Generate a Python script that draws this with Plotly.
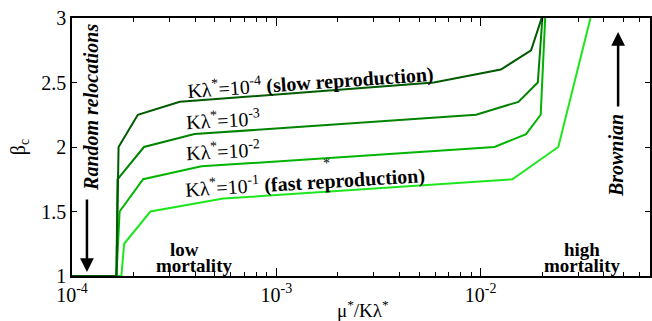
import plotly.graph_objects as go

# ---- data ----
series_names = ["Kλ*=1e-4", "Kλ*=1e-3", "Kλ*=1e-2", "Kλ*=1e-1"]
x_s1 = [1e-4, 1.65e-4, 1.69e-4, 2.1e-4, 3.37e-4, 5.9e-3, 0.01256, 0.01766, 0.0199]
y_s1 = [1.0, 1.0, 2.0, 2.25, 2.35, 2.5, 2.6, 2.75, 3.0]
x_s2 = [1e-4, 1.65e-4, 1.67e-4, 2.25e-4, 3.98e-4, 9.5e-3, 0.01531, 0.01905, 0.02006]
y_s2 = [1.0, 1.0, 1.75, 2.0, 2.1, 2.25, 2.35, 2.5, 3.0]
x_s3 = [1e-4, 1.65e-4, 1.71e-4, 2.23e-4, 4.3e-4, 0.0117, 0.0167, 0.01968, 0.0207]
y_s3 = [1.0, 1.0, 1.5, 1.75, 1.85, 2.0, 2.1, 2.25, 3.0]
x_s4 = [1e-4, 1.745e-4, 1.80e-4, 2.42e-4, 5.5e-4, 0.0143, 0.024, 0.0345]
y_s4 = [1.0, 1.0, 1.25, 1.5, 1.6, 1.75, 2.0, 3.0]

x_tickvals = [1e-4, 1e-3, 1e-2]
x_ticktext = ["10<sup>-4</sup>", "10<sup>-3</sup>", "10<sup>-2</sup>"]
x_minor = [k * 10.0 ** e for e in (-4, -3, -2) for k in range(2, 10)]
y_tickvals = [1, 1.5, 2, 2.5, 3]
y_ticktext = ["1", "1.5", "2", "2.5", "3"]

colors = ["#005a00", "#008400", "#00b400", "#1ee61e"]

W, H = 652, 321
PL, PR, PT, PB = 72, 652, 18, 276      # plot area in page pixels
L, R, T, B = PL, W - PR, PT, H - PB
PW, PH = PR - PL, PB - PT


def px(x):
    return (x - PL) / PW


def py(y):
    return (PB - y) / PH


FONT = '"Liberation Serif", "Times New Roman", Times, serif'

fig = go.Figure()
xs = [x_s1, x_s2, x_s3, x_s4]
ys = [y_s1, y_s2, y_s3, y_s4]
# draw brightest first so darker lines sit on top
for i in [3, 2, 1, 0]:
    fig.add_trace(go.Scatter(x=xs[i], y=ys[i], mode="lines", name=series_names[i],
                             line=dict(color=colors[i], width=2), showlegend=False))

annotations = []


def txt(x, y, text, size=18, angle=0):
    annotations.append(dict(x=px(x), y=py(y), xref="paper", yref="paper", text=text,
                            showarrow=False, textangle=angle,
                            font=dict(family=FONT, size=size, color="black"),
                            xanchor="center", yanchor="middle"))


txt(311, 81, "Kλ<sup>*</sup>=10<sup>-4</sup> <b>(slow reproduction)</b>", 20, -4)
txt(224, 119, "Kλ<sup>*</sup>=10<sup>-3</sup>", 20, -3)
txt(224, 150, "Kλ<sup>*</sup>=10<sup>-2</sup>", 20, -3)
txt(327, 163, "*", 14, 0)
txt(306, 181, "Kλ<sup>*</sup>=10<sup>-1</sup> <b>(fast reproduction)</b>", 20, -3.5)
txt(91, 107, "<b><i>Random relocations</i></b>", 20, -90)
txt(618, 156, "<b><i>Brownian</i></b>", 20, -90)
txt(185, 249, "<b>low</b>", 19, 0)
txt(194, 265, "<b>mortality</b>", 19, 0)
txt(584, 249, "<b>high</b>", 19, 0)
txt(584, 265, "<b>mortality</b>", 19, 0)
# axis titles
txt(364, 309, "μ<sup>*</sup>/Kλ<sup>*</sup>", 19, 0)
txt(19, 147, "β<sub>c</sub>", 20, -90)

# arrows
annotations.append(dict(x=px(87), y=py(272), xref="paper", yref="paper", ax=0, ay=-74,
                        axref="pixel", ayref="pixel", showarrow=True, text="",
                        arrowhead=2, arrowsize=1.1, arrowwidth=2.5, arrowcolor="black"))
annotations.append(dict(x=px(620), y=py(32), xref="paper", yref="paper", ax=0, ay=76,
                        axref="pixel", ayref="pixel", showarrow=True, text="",
                        arrowhead=2, arrowsize=1.1, arrowwidth=2.5, arrowcolor="black"))

fig.update_layout(
    width=W, height=H,
    margin=dict(l=L, r=R, t=T, b=B, pad=0),
    paper_bgcolor="white", plot_bgcolor="white",
    font=dict(family=FONT, color="black"),
    annotations=annotations,
    xaxis=dict(type="log", range=[-4, -1.171], tickvals=x_tickvals, ticktext=x_ticktext,
               ticks="inside", ticklen=8, tickwidth=1, tickcolor="black",
               showline=True, linecolor="black", linewidth=1.5, mirror="allticks",
               showgrid=False, zeroline=False, ticklabeloverflow="allow",
               minor=dict(tickvals=x_minor, ticks="inside", ticklen=4, tickwidth=1,
                          tickcolor="black", showgrid=False),
               tickfont=dict(family=FONT, size=20, color="black")),
    yaxis=dict(range=[1, 3], tickvals=y_tickvals, ticktext=y_ticktext,
               ticks="inside", ticklen=5, tickwidth=1, tickcolor="black",
               showline=True, linecolor="black", linewidth=1.5, mirror="allticks",
               showgrid=False, zeroline=False, ticklabeloverflow="allow",
               tickfont=dict(family=FONT, size=20, color="black")),
)

fig.write_html("out.html", config={"displayModeBar": False},
               post_script="document.body.style.margin='0';document.body.style.padding='0';")
